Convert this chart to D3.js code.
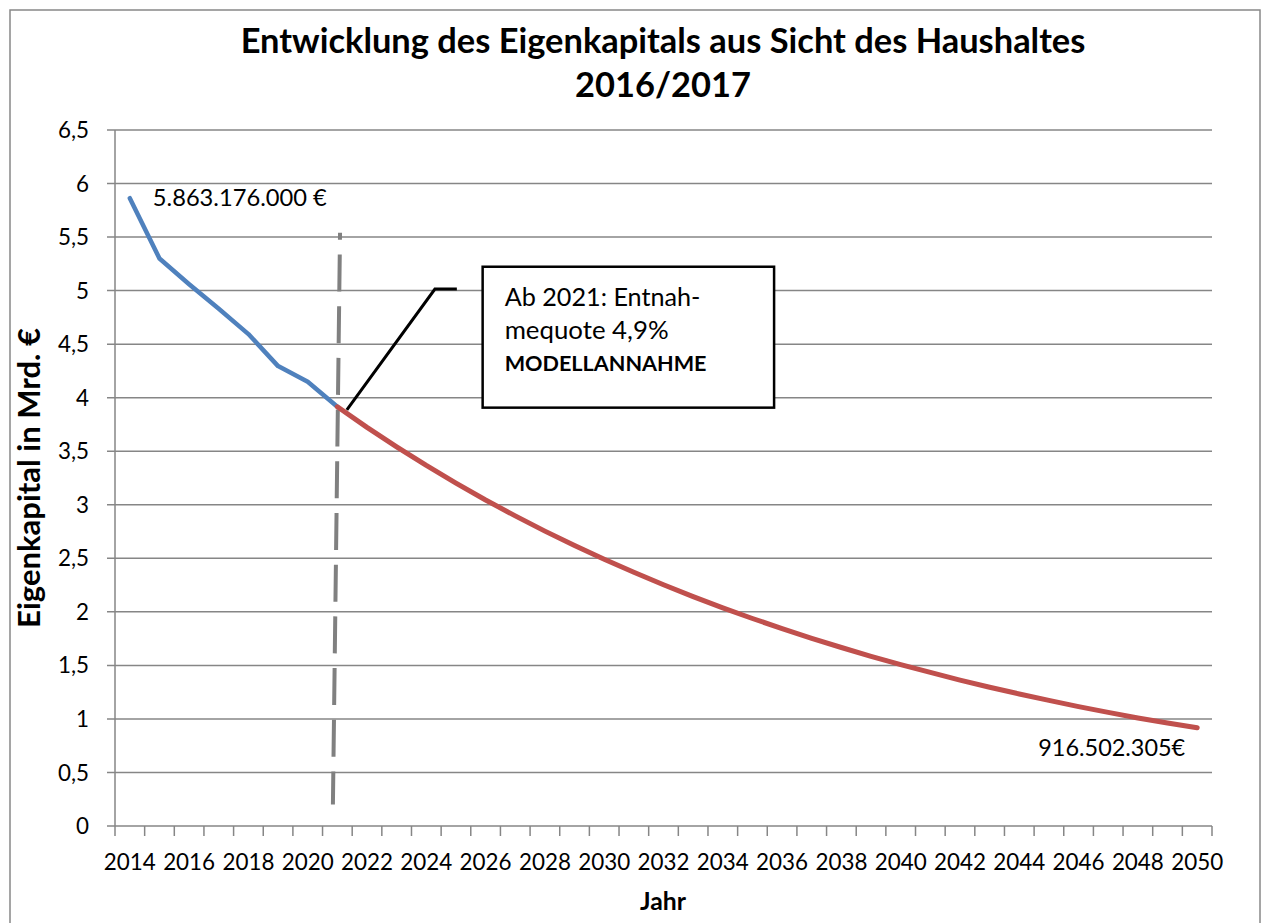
<!DOCTYPE html>
<html><head><meta charset="utf-8">
<script src="https://cdn.jsdelivr.net/npm/d3@7"></script>
<style>body{margin:0;background:#fff}svg{display:block}text{font-family:Lato,"Noto Sans",sans-serif;fill:#000}</style>
</head><body>
<svg id="c" width="1265" height="923"></svg>
<script>
const years = d3.range(2014, 2051);
const yTicks = [0,0.5,1,1.5,2,2.5,3,3.5,4,4.5,5,5.5,6,6.5];
const yTickLabels = ["0","0,5","1","1,5","2","2,5","3","3,5","4","4,5","5","5,5","6","6,5"];
const histYears = [2014,2015,2016,2017,2018,2019,2020,2021];
const histValues = [5.863,5.30,5.06,4.83,4.594,4.295,4.149,3.915];
const projYears = d3.range(2021, 2051);
const projValues = [3.915,3.723,3.541,3.367,3.202,3.045,2.896,2.754,2.619,2.491,
  2.369,2.253,2.142,2.037,1.938,1.843,1.752,1.667,1.585,1.507,
  1.434,1.363,1.296,1.233,1.173,1.115,1.061,1.009,0.962,0.917];
const titleLines = ["Entwicklung des Eigenkapitals aus Sicht des Haushaltes","2016/2017"];
const calloutLines = ["Ab 2021: Entnah-","mequote 4,9%","MODELLANNAHME"];

const svg = d3.select("#c");
const L=115,R=1212,T=130,B=826;
const x = d3.scaleBand().domain(years).range([L,R]).padding(0);
const bw = x.bandwidth();
const xc = y => x(y)+bw/2;
const xf = yf => L + (yf-2014+0.5)*bw; // fractional year position
const y = d3.scaleLinear().domain([0,6.5]).range([B,T]);
const grey="#868686";

function fit(sel, w){ const n=sel.node(); const fs=parseFloat(sel.style("font-size")); const m=n.getComputedTextLength(); const f=fs*w/m; sel.style("font-size",f+"px"); return f; }

// measure tick font size so "2014" is ~52px wide
const probe=svg.append("text").style("font-size","22px").text("2014");
const tickFs=fit(probe,52); probe.remove();

// outer border
svg.append("rect").attr("x",10).attr("y",10).attr("width",1250).attr("height",930)
  .attr("fill","none").attr("stroke","#888").attr("stroke-width",1.5);

// gridlines
svg.append("g").selectAll("line").data(yTicks.slice(1)).join("line")
  .attr("x1",L-8).attr("x2",R).attr("y1",d=>y(d)).attr("y2",d=>y(d))
  .attr("stroke",grey).attr("stroke-width",1.5);
// axes
svg.append("line").attr("x1",L).attr("x2",L).attr("y1",T).attr("y2",B).attr("stroke",grey).attr("stroke-width",1.5);
svg.append("line").attr("x1",L-8).attr("x2",R).attr("y1",B).attr("y2",B).attr("stroke",grey).attr("stroke-width",1.5);
// y labels
svg.append("g").selectAll("text").data(yTicks).join("text")
  .attr("x",L-26).attr("y",d=>y(d)).attr("dy","0.36em").attr("text-anchor","end")
  .style("font-size",tickFs+"px").text((d,i)=>yTickLabels[i]);
// x ticks (between categories)
svg.append("g").selectAll("line").data(years.concat([2051])).join("line")
  .attr("x1",d=>L+(d-2014)*bw).attr("x2",d=>L+(d-2014)*bw).attr("y1",B).attr("y2",B+10)
  .attr("stroke",grey).attr("stroke-width",1.5);
svg.append("g").selectAll("text").data(years.filter(d=>d%2===0)).join("text")
  .attr("x",d=>xc(d)).attr("y",B+44).attr("text-anchor","middle")
  .style("font-size",tickFs+"px").text(d=>d);

// dashed marker line
svg.append("line").attr("x1",xf(2021.09)).attr("y1",y(5.54)).attr("x2",xf(2020.85)).attr("y2",y(0.2))
  .attr("stroke","#808080").attr("stroke-width",4).attr("stroke-dasharray","37 14.7").attr("stroke-dashoffset",30);

// series
const line = d3.line().x(d=>xc(d[0])).y(d=>y(d[1]));
svg.append("path").datum(histYears.map((d,i)=>[d,histValues[i]])).attr("d",line)
  .attr("fill","none").attr("stroke","#4F81BD").attr("stroke-width",4.5).attr("stroke-linejoin","round").attr("stroke-linecap","round");
svg.append("path").datum(projYears.map((d,i)=>[d,projValues[i]])).attr("d",line)
  .attr("fill","none").attr("stroke","#C0504D").attr("stroke-width",5).attr("stroke-linejoin","round").attr("stroke-linecap","round");

// callout
svg.append("path").attr("d",`M${xf(2021.32)},${y(3.886)}L${xf(2024.29)},${y(5.015)}L${xf(2025.03)},${y(5.015)}`)
  .attr("fill","none").attr("stroke","#000").attr("stroke-width",3);
svg.append("rect").attr("x",xf(2025.9)).attr("y",y(5.223)).attr("width",xf(2035.73)-xf(2025.9)).attr("height",y(3.907)-y(5.223))
  .attr("fill","#fff").attr("stroke","#000").attr("stroke-width",2.5);
const cw=[196,164,202];
calloutLines.forEach((t,i)=>{
  const s=svg.append("text").attr("x",xf(2025.9)+22).attr("y",306+i*32.5).style("font-size","22px")
    .style("font-weight",i===2?"700":"400").text(t);
  fit(s,cw[i]);
});

// data labels
const lab1=svg.append("text").attr("x",xc(2014)+23).attr("y",y(histValues[0])+8).style("font-size","22px").text("5.863.176.000 €");
fit(lab1,174);
const lab2=svg.append("text").attr("x",xc(2050)-12).attr("y",756).attr("text-anchor","end").style("font-size","22px").text("916.502.305€");
fit(lab2,147);

// titles
const t1=svg.append("text").attr("x",663).attr("y",53).attr("text-anchor","middle").style("font-size","30px").style("font-weight","700").text(titleLines[0]);
fit(t1,845);
svg.append("text").attr("x",663).attr("y",97).attr("text-anchor","middle").style("font-size",t1.style("font-size")).style("font-weight","700").text(titleLines[1]);
const yt=svg.append("text").attr("transform","translate(40,478) rotate(-90)").attr("text-anchor","middle").style("font-size","20px").style("font-weight","700").text("Eigenkapital in Mrd. €");
fit(yt,300);
const jt=svg.append("text").attr("x",663).attr("y",910).attr("text-anchor","middle").style("font-size","20px").style("font-weight","700").text("Jahr");
fit(jt,46);
</script>
</body></html>
